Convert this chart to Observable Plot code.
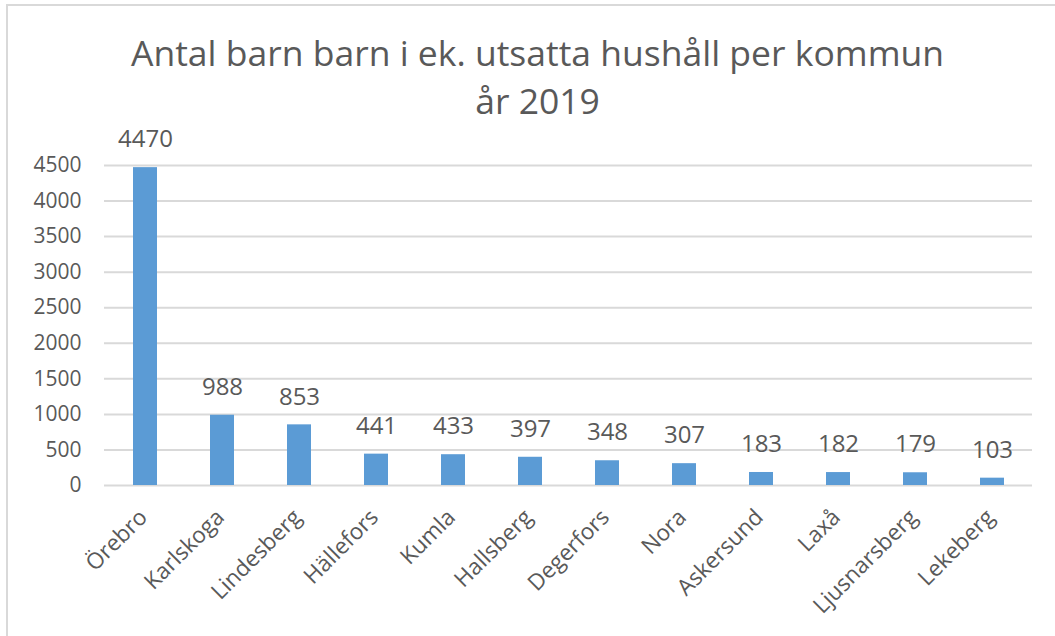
<!DOCTYPE html>
<html>
<head>
<meta charset="utf-8">
<script src="https://cdn.jsdelivr.net/npm/d3@7"></script>
<script src="https://cdn.jsdelivr.net/npm/@observablehq/plot@0.6"></script>
<style>
  html, body { margin: 0; padding: 0; background: #fff; overflow: hidden; width: 1055px; height: 636px; }
  #frame { position: absolute; left: 6px; top: 4px; width: 1100px; height: 700px; border: 2px solid #d9d9d9; box-sizing: border-box; }
  #wrap { position: absolute; left: 0; top: 0; width: 1055px; }
  #title { height: 100px; box-sizing: border-box; padding-top: 28px; padding-left: 20px; text-align: center;
           font-family: "Open Sans", sans-serif; font-size: 35.5px; line-height: 48px; color: #595959; }
  svg { display: block; overflow: visible; }
</style>
</head>
<body>
<div id="frame"></div>
<div id="wrap">
  <div id="title">Antal barn barn i ek. utsatta hushåll per kommun<br>år 2019</div>
  <div id="chart"></div>
</div>
<script>
const kommuner = ["Örebro", "Karlskoga", "Lindesberg", "Hällefors", "Kumla", "Hallsberg", "Degerfors", "Nora", "Askersund", "Laxå", "Ljusnarsberg", "Lekeberg"];
const antal = [4470, 988, 853, 441, 433, 397, 348, 307, 183, 182, 179, 103];
const yTicks = [0, 500, 1000, 1500, 2000, 2500, 3000, 3500, 4000, 4500];

const data = kommuner.map((k, i) => ({kommun: k, antal: antal[i]}));
const textColor = "#595959";

const chart = Plot.plot({
  width: 1055,
  height: 536,
  marginTop: 65,
  marginBottom: 151,
  marginLeft: 104,
  marginRight: 23,
  style: {fontFamily: "'Open Sans', sans-serif", color: textColor, background: "transparent", overflow: "visible"},
  x: {domain: kommuner, paddingInner: 0.69, paddingOuter: 0.345, label: null},
  y: {domain: [0, 4500], ticks: yTicks, label: null},
  marks: [
    Plot.gridY(yTicks, {stroke: "#d9d9d9", strokeOpacity: 1, strokeWidth: 2}),
    Plot.axisY(yTicks, {tickSize: 0, tickPadding: 23, fontSize: 21, label: null, fill: textColor, tickFormat: d => String(d)}),
    Plot.axisX({tickSize: 0, tickRotate: -45, tickPadding: 28, dx: -2, fontSize: 22.5, label: null, fill: textColor}),
    Plot.barY(data, {x: "kommun", y: "antal", fill: "#5B9BD5"}),
    Plot.text(data, {x: "kommun", y: "antal", text: d => String(d.antal), dy: -28, fontSize: 24, fill: textColor})
  ]
});
document.getElementById("chart").appendChild(chart);
</script>
</body>
</html>
